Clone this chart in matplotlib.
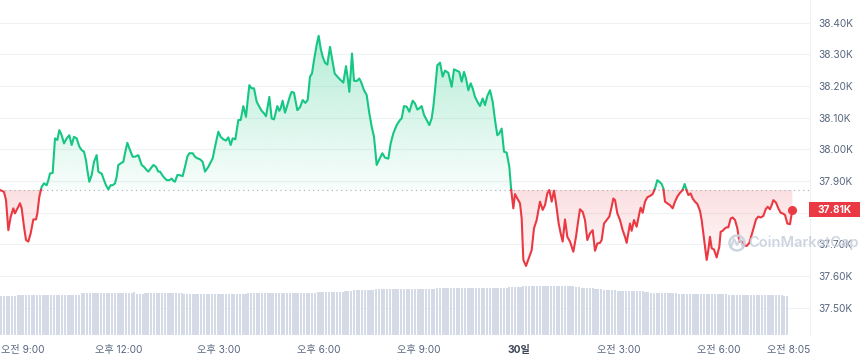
import numpy as np
import matplotlib
matplotlib.use("Agg")
import matplotlib.pyplot as plt
import matplotlib.transforms as mtransforms
from matplotlib.path import Path
from matplotlib.patches import Rectangle, Circle, PathPatch
from matplotlib.lines import Line2D

plt.rcParams['font.family'] = ['Inter', 'Noto Sans CJK KR', 'DejaVu Sans']

# ---------------- data ----------------
times = [
    8.43, 8.55, 8.61, 8.68, 8.75, 8.83, 8.88, 8.93, 8.98, 9.03, 9.08, 9.15, 9.21, 9.28, 9.35, 9.43, 9.51, 9.55,
    9.61, 9.68, 9.75, 9.83, 9.88, 9.93, 10.01, 10.08, 10.15, 10.21, 10.28, 10.35, 10.43, 10.51, 10.58, 10.65,
    10.73, 10.81, 10.88, 10.95, 11.01, 11.05, 11.11, 11.18, 11.25, 11.33, 11.38, 11.43, 11.48, 11.55, 11.61,
    11.68, 11.75, 11.81, 11.88, 11.93, 11.98, 12.05, 12.13, 12.18, 12.25, 12.33, 12.41, 12.48, 12.58, 12.63,
    12.68, 12.75, 12.83, 12.88, 12.95, 13.03, 13.11, 13.18, 13.23, 13.33, 13.43, 13.51, 13.58, 13.63, 13.68,
    13.75, 13.81, 13.91, 13.98, 14.05, 14.11, 14.21, 14.28, 14.35,
    14.43, 14.51, 14.58, 14.68, 14.81, 14.88, 14.98, 15.05, 15.13, 15.21, 15.28, 15.35, 15.41, 15.49, 15.55,
    15.58, 15.65, 15.73, 15.81, 15.85, 15.91, 15.98, 16.05, 16.13, 16.21, 16.28, 16.35, 16.41, 16.51, 16.58,
    16.65, 16.75, 16.81, 16.85, 16.91, 16.98, 17.05, 17.13, 17.18, 17.25, 17.35, 17.43, 17.51, 17.59, 17.66,
    17.73, 17.79, 17.85, 17.93, 17.99, 18.05, 18.11, 18.18, 18.25, 18.33, 18.41, 18.47, 18.55, 18.63, 18.73,
    18.81, 18.87, 18.91, 18.95, 18.99, 19.05, 19.13, 19.21, 19.27, 19.35, 19.43, 19.51, 19.58, 19.65, 19.73,
    19.81, 19.90, 19.98, 20.08, 20.15, 20.23, 20.33,
    20.43, 20.48, 20.55, 20.63, 20.71, 20.81, 20.88, 20.95, 21.01, 21.08, 21.15, 21.23, 21.31, 21.38, 21.43,
    21.48, 21.55, 21.63, 21.71, 21.78, 21.88, 21.98, 22.05, 22.13, 22.21, 22.28, 22.35, 22.41, 22.48, 22.55,
    22.61, 22.68, 22.75, 22.83, 22.91, 22.98, 23.05, 23.13, 23.21, 23.28, 23.35, 23.41, 23.48, 23.55, 23.63,
    23.71, 23.76, 23.83, 23.88, 23.95, 24.03, 24.08, 24.13, 24.21, 24.28, 24.38, 24.45, 24.53, 24.63, 24.71,
    24.78, 24.85, 24.91, 24.98, 25.05, 25.11, 25.19, 25.25, 25.31, 25.38, 25.45, 25.53, 25.63, 25.71, 25.78,
    25.83, 25.91, 25.98, 26.05, 26.13, 26.21, 26.28, 26.35,
    26.43, 26.48, 26.55, 26.63, 26.71, 26.78, 26.83, 26.88, 26.95, 27.03, 27.11, 27.18, 27.23, 27.28, 27.33,
    27.38, 27.45, 27.53, 27.61, 27.65, 27.71, 27.78, 27.85, 27.93, 28.01, 28.08, 28.15, 28.21, 28.28, 28.33,
    28.38, 28.45, 28.53, 28.61, 28.68, 28.75, 28.83, 28.91, 28.97, 29.03, 29.08, 29.15, 29.21, 29.28, 29.35,
    29.43, 29.48, 29.53, 29.58, 29.63, 29.68, 29.73, 29.78, 29.85, 29.93, 30.01, 30.05, 30.11, 30.18, 30.23,
    30.28, 30.35, 30.41, 30.48, 30.55, 30.61, 30.68, 30.75, 30.83, 30.91, 30.98, 31.05, 31.11, 31.18, 31.25,
    31.33, 31.40, 31.46, 31.53, 31.58, 31.63, 31.71, 31.78, 31.85, 31.91, 31.98, 32.05, 32.13, 32.20,
]
prices = [
    37872, 37866, 37840, 37745, 37787, 37814, 37798, 37809, 37819, 37830, 37814, 37756, 37714, 37709, 37735,
    37779, 37779, 37798, 37851, 37882, 37893, 37887, 37903, 37924, 37926, 38035, 38030, 38061, 38045, 38019,
    38035, 38045, 38014, 38040, 38035, 38009, 37998, 37993, 37966, 37935, 37898, 37919, 37961, 37982, 37930,
    37926, 37924, 37903, 37887, 37874, 37887, 37887, 37893, 37914, 37951, 37956, 37961, 37988, 38021, 37998,
    37977, 37977, 37982, 37966, 37951, 37945, 37935, 37930, 37940, 37951, 37945, 37930, 37930, 37914, 37903,
    37903, 37908, 37901, 37898, 37919, 37919, 37916, 37945, 37977, 37988, 37988, 37977, 37972,
    37969, 37961, 37930, 37945, 37972, 38008, 38056, 38040, 38032, 38028, 38038, 38014, 38035, 38032, 38072,
    38093, 38093, 38137, 38103, 38145, 38203, 38193, 38193, 38151, 38135, 38122, 38114, 38105, 38166, 38098,
    38095, 38137, 38122, 38130, 38154, 38116, 38140, 38169, 38182, 38179, 38124, 38133, 38156, 38147, 38156,
    38230, 38240, 38282, 38330, 38359, 38319, 38293, 38274, 38268, 38324, 38277, 38240, 38230, 38221, 38211,
    38263, 38219, 38182, 38240, 38303, 38217, 38216, 38224, 38211, 38187, 38172, 38114, 38072, 38040, 37951,
    37969, 37988, 37974, 37971, 38019, 38051, 38077,
    38093, 38098, 38137, 38135, 38119, 38154, 38145, 38126, 38130, 38137, 38109, 38093, 38077, 38098, 38135,
    38187, 38266, 38274, 38230, 38249, 38242, 38198, 38253, 38249, 38245, 38214, 38245, 38224, 38187, 38209,
    38193, 38166, 38151, 38137, 38161, 38140, 38169, 38187, 38151, 38093, 38045, 38051, 38066, 37993, 37990,
    37945, 37877, 37814, 37859, 37845, 37830, 37782, 37651, 37632, 37653, 37682, 37751, 37777, 37835, 37809,
    37824, 37861, 37872, 37835, 37870, 37830, 37766, 37735, 37709, 37779, 37724, 37709, 37677, 37724, 37777,
    37811, 37803, 37777, 37714, 37735, 37745, 37680, 37703,
    37705, 37714, 37766, 37777, 37788, 37819, 37845, 37840, 37798, 37777, 37745, 37724, 37705, 37735, 37766,
    37743, 37777, 37756, 37798, 37816, 37800, 37835, 37849, 37853, 37859, 37877, 37903, 37898, 37891, 37877,
    37835, 37830, 37824, 37814, 37835, 37851, 37863, 37872, 37891, 37870, 37856, 37861, 37845, 37835, 37828,
    37806, 37777, 37735, 37693, 37651, 37682, 37724, 37688, 37684, 37659, 37693, 37740, 37743, 37751, 37754,
    37754, 37782, 37785, 37777, 37751, 37709, 37709, 37698, 37695, 37705, 37730, 37756, 37779, 37788, 37785,
    37790, 37811, 37819, 37811, 37824, 37840, 37832, 37814, 37800, 37798, 37793, 37766, 37764, 37810,
]
baseline = 37872

# 5-minute volume bars, given as runs of equal level (level, number of bars)
vol_levels = [15.7, 16.1, 16.0, 16.7, 17.2, 16.4, 16.9, 16.4, 16.6, 16.8, 16.9, 17.3, 17.6, 18.0, 18.4,
              18.8, 19.2, 19.6, 19.2, 18.8, 18.4, 18.0, 17.6, 17.3, 16.9, 16.7, 16.4, 16.3, 16.0, 15.6]
vol_counts = [6, 18, 5, 19, 1, 3, 14, 6, 17, 18, 7, 10, 3, 8, 22,
              26, 5, 19, 2, 5, 3, 5, 10, 2, 8, 2, 11, 7, 20, 2]

tick_times = [9, 12, 15, 18, 21, 24, 27, 30, 32 + 5 / 60]
tick_labels = ['오전 9:00', '오후 12:00', '오후 3:00', '오후 6:00', '오후 9:00', '30일',
               '오전 3:00', '오전 6:00', '오전 8:05']
price_ticks = [37500, 37600, 37700, 37800, 37900, 38000, 38100, 38200, 38300, 38400]

GREEN = '#16c784'
RED = '#ea3943'
LABEL = '#58667e'

# ---------------- figure ----------------
W, H = 860, 360
fig = plt.figure(figsize=(W / 100, H / 100), dpi=100)
pos = [0, 25 / H, 810 / W, 335 / H]
ax = fig.add_axes(pos)
axv = fig.add_axes(pos, sharex=ax)
axv.set_axis_off()

x0, x1 = 8.43, 32.73
ax.set_xlim(x0, x1)
ax.set_ylim(37414, 38472)

# volume bars
vol = np.repeat(vol_levels, vol_counts)
vt = x0 + np.arange(len(vol)) / 12.0
axv.bar(vt, vol, width=0.062, align='edge', color='#d5dbe6', linewidth=0)
axv.set_ylim(0, 134)

# price line split at baseline
t = np.asarray(times, float)
p = np.asarray(prices, float)
rt, rp = [t[0]], [p[0]]
for i in range(len(t) - 1):
    d0, d1 = p[i] - baseline, p[i + 1] - baseline
    if d0 * d1 < 0:
        f = d0 / (d0 - d1)
        rt.append(t[i] + f * (t[i + 1] - t[i]))
        rp.append(baseline)
    rt.append(t[i + 1])
    rp.append(p[i + 1])
rt, rp = np.array(rt), np.array(rp)

def gradient_fill(y_curve, ylo, yhi, color, a_lo, a_hi):
    verts = [(rt[0], baseline)] + list(zip(rt, y_curve)) + [(rt[-1], baseline), (rt[0], baseline)]
    patch = PathPatch(Path(verts), transform=ax.transData, facecolor='none', edgecolor='none')
    ax.add_patch(patch)
    rgb = matplotlib.colors.to_rgb(color)
    n = 256
    img = np.zeros((n, 1, 4))
    img[:, 0, :3] = rgb
    img[:, 0, 3] = np.linspace(a_lo, a_hi, n)
    im = ax.imshow(img, extent=[x0, x1, ylo, yhi], origin='lower', aspect='auto',
                   interpolation='bicubic', zorder=1)
    im.set_clip_path(patch)

gradient_fill(np.maximum(rp, baseline), baseline, p.max(), GREEN, 0.03, 0.32)
gradient_fill(np.minimum(rp, baseline), p.min(), baseline, RED, 0.03, 0.16)
ax.set_xlim(x0, x1)
ax.set_ylim(37414, 38472)

ax.plot(rt, np.where(rp >= baseline, rp, np.nan), color=GREEN, lw=1.5, zorder=3, solid_joinstyle='round')
ax.plot(rt, np.where(rp <= baseline, rp, np.nan), color=RED, lw=1.5, zorder=3, solid_joinstyle='round')
ax.axhline(baseline, color='#a3acbb', lw=0.8, ls=(0, (1, 3.2)), zorder=2)
ax.plot(t[-1], p[-1], 'o', ms=5.5, color=RED, zorder=4)

# axes styling
ax.yaxis.tick_right()
ax.set_yticks(price_ticks)
# the 37.80K label sits under the current-price tag, so it is left blank
ax.set_yticklabels(['' if v == 37800 else f'{v / 1000:.2f}K' for v in price_ticks])
ax.set_xticks(tick_times)
ax.set_xticklabels(tick_labels)
ax.tick_params(axis='y', length=0, pad=6, labelsize=7.3, labelcolor=LABEL)
ax.tick_params(axis='x', length=0, pad=7, labelsize=7.3, labelcolor=LABEL)
xl = ax.get_xticklabels()
xl[5].set_fontweight('bold')
xl[5].set_color('#3d4556')
xl[0].set_transform(xl[0].get_transform() + mtransforms.ScaledTranslation(4 / 100, 0, fig.dpi_scale_trans))
ax.grid(axis='y', color='#eff2f5', lw=0.8)
ax.set_axisbelow(True)
for s in ['left', 'top', 'bottom']:
    ax.spines[s].set_visible(False)
ax.spines['right'].set_color('#eff2f5')
ax.spines['right'].set_linewidth(0.8)

# current price tag
fig.canvas.draw()
y_disp = ax.transData.transform((t[-1], p[-1]))[1]
fig.add_artist(Rectangle((809 / W, (y_disp - 7.5) / H), 51 / W, 15 / H,
                         transform=fig.transFigure, facecolor=RED, edgecolor='none', zorder=10))
fig.text(818 / W, y_disp / H, f'{p[-1] / 1000:.2f}K', color='white', fontsize=7.3,
         fontweight='bold', va='center', ha='left', zorder=11)

# watermark
wm = '#c9d1dd'
fig.add_artist(Circle((7.37, 1.17), 0.075, transform=fig.dpi_scale_trans, facecolor='none',
                      edgecolor=wm, lw=1.8, zorder=12, alpha=0.9))
fig.add_artist(Line2D([7.31, 7.34, 7.37, 7.40, 7.43], [1.13, 1.21, 1.15, 1.21, 1.13],
                      transform=fig.dpi_scale_trans, color=wm, lw=1.5, zorder=12, alpha=0.9))
fig.text(748 / W, 117 / H, 'CoinMarketCap', color=wm, fontsize=10.5, fontweight='semibold',
         va='center', ha='left', zorder=12, alpha=0.9)

fig.savefig('out.png', dpi=100, facecolor='white')
